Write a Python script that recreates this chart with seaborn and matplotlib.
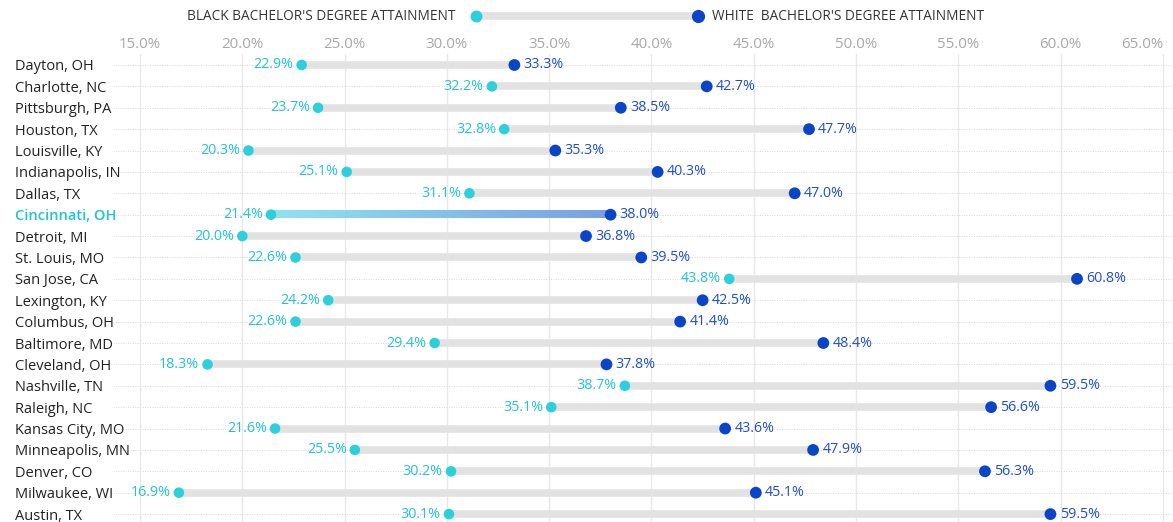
"""
Dumbbell chart: Black vs White bachelor's degree attainment by metro.
"""

import matplotlib.pyplot as plt
import matplotlib.colors as mcolors
import numpy as np
import pandas as pd
import seaborn as sns

cities = [
    'Dayton, OH', 'Charlotte, NC', 'Pittsburgh, PA', 'Houston, TX', 'Louisville, KY',
    'Indianapolis, IN', 'Dallas, TX', 'Cincinnati, OH', 'Detroit, MI', 'St. Louis, MO',
    'San Jose, CA', 'Lexington, KY', 'Columbus, OH', 'Baltimore, MD', 'Cleveland, OH',
    'Nashville, TN', 'Raleigh, NC', 'Kansas City, MO', 'Minneapolis, MN', 'Denver, CO',
    'Milwaukee, WI', 'Austin, TX',
]
black_pct = [22.9, 32.2, 23.7, 32.8, 20.3, 25.1, 31.1, 21.4, 20.0, 22.6, 43.8,
             24.2, 22.6, 29.4, 18.3, 38.7, 35.1, 21.6, 25.5, 30.2, 16.9, 30.1]
white_pct = [33.3, 42.7, 38.5, 47.7, 35.3, 40.3, 47.0, 38.0, 36.8, 39.5, 60.8,
             42.5, 41.4, 48.4, 37.8, 59.5, 56.6, 43.6, 47.9, 56.3, 45.1, 59.5]
x_ticks = [15, 20, 25, 30, 35, 40, 45, 50, 55, 60, 65]
highlight = 'Cincinnati, OH'

CYAN = '#2dcfdc'
CYAN_TXT = '#22c4d3'
BLUE = '#0a45c8'
BLUE_TXT = '#1f4fcf'
BAR = '#e2e2e2'

df = pd.DataFrame({'city': cities, 'black': black_pct, 'white': white_pct})
df['row'] = np.arange(len(df))

sns.set_style('white')
plt.rcParams['font.family'] = ['Open Sans', 'DejaVu Sans']

fig = plt.figure(figsize=(11.73, 5.22), dpi=100)
ax = fig.add_axes([113 / 1173, 0, 1060 / 1173, 467.7 / 522])

# grid
for t in x_ticks:
    ax.axvline(t, color='#e8e8e8', lw=1, zorder=0)
for r in df['row']:
    ax.axhline(r, color='#d8d8d8', lw=0.7, ls=(0, (1, 1.5)), zorder=0)

# connecting bars
for _, d in df.iterrows():
    if d['city'] == highlight:
        grad = np.linspace(0, 1, 256).reshape(1, -1)
        cmap = mcolors.LinearSegmentedColormap.from_list('hl', ['#8fe3f0', '#7a9fe2'])
        ax.imshow(grad, cmap=cmap, aspect='auto', zorder=1,
                  extent=[d['black'], d['white'], d['row'] + 0.17, d['row'] - 0.17])
    else:
        ax.hlines(d['row'], d['black'], d['white'], color=BAR, lw=5.5, zorder=1)

sns.scatterplot(data=df, x='black', y='row', color=CYAN, s=58, edgecolor='none',
                zorder=3, ax=ax)
sns.scatterplot(data=df, x='white', y='row', color=BLUE, s=72, edgecolor='none',
                zorder=3, ax=ax)

for _, d in df.iterrows():
    ax.text(d['black'] - 0.4, d['row'], f"{d['black']:.1f}%", color=CYAN_TXT,
            ha='right', va='center', fontsize=10.3)
    ax.text(d['white'] + 0.45, d['row'], f"{d['white']:.1f}%", color=BLUE_TXT,
            ha='left', va='center', fontsize=10.3)

ax.set_xlim(13.68, 65.49)
ax.set_ylim(21.37, -0.5)
ax.set_xticks(x_ticks)
ax.set_xticklabels([f'{t:.1f}%' for t in x_ticks], color='#a8a8a8', fontsize=10.8)
ax.xaxis.tick_top()
ax.tick_params(axis='x', length=0, pad=1.5)
xlabels = ax.get_xticklabels()
xlabels[-1].set_horizontalalignment('right')
ax.set_yticks(df['row'])
ax.set_yticklabels(df['city'], fontsize=10.5, color='#222222')
ax.tick_params(axis='y', length=0, pad=0)
for lbl in ax.get_yticklabels():
    lbl.set_horizontalalignment('left')
    lbl.set_x(-98 / 1060)
    if lbl.get_text() == highlight:
        lbl.set_color(CYAN_TXT)
        lbl.set_fontweight('semibold')
ax.set_xlabel('')
ax.set_ylabel('')
for s in ax.spines.values():
    s.set_visible(False)

# legend strip at the top
leg = fig.add_axes([0, 0, 1, 1], facecolor='none')
leg.set_xlim(0, 1173)
leg.set_ylim(522, 0)
leg.axis('off')
leg.hlines(16, 476, 698, color=BAR, lw=5.5, zorder=1)
leg.scatter([476], [16], color=CYAN, s=58, zorder=2)
leg.scatter([698], [16], color=BLUE, s=72, zorder=2)
leg.text(455, 16, "BLACK BACHELOR'S DEGREE ATTAINMENT", ha='right', va='center',
         fontsize=9.8, color='#333333')
leg.text(712, 16, "WHITE  BACHELOR'S DEGREE ATTAINMENT", ha='left', va='center',
         fontsize=9.8, color='#333333')

plt.savefig('out.png', dpi=100)
